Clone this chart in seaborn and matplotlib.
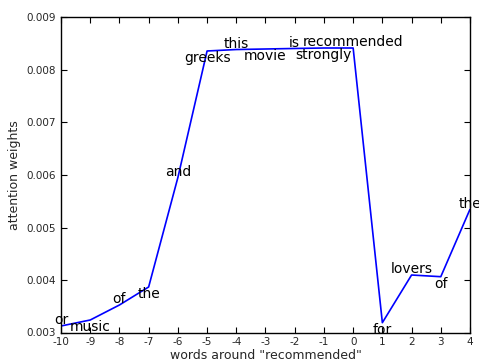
import matplotlib
matplotlib.use("Agg")
import matplotlib.pyplot as plt
import seaborn as sns
import pandas as pd
from matplotlib.ticker import FormatStrFormatter, MultipleLocator

positions = [-10, -9, -8, -7, -6, -5, -4, -3, -2, -1, 0, 1, 2, 3, 4]
weights = [0.003124, 0.003238, 0.003524, 0.003867, 0.00595, 0.008362, 0.008390,
           0.008400, 0.008410, 0.008419, 0.008419, 0.003187, 0.004095, 0.004063, 0.005347]
words = ["or", "music", "of", "the", "and", "greeks", "this", "movie", "is",
         "strongly", "recommended", "for", "lovers", "of", "the"]

sns.set_style("ticks")
plt.rcParams["font.family"] = ["DejaVu Sans"]
plt.rcParams["axes.unicode_minus"] = False
plt.rcParams["xtick.direction"] = "in"
plt.rcParams["ytick.direction"] = "in"

df = pd.DataFrame({"pos": positions, "w": weights})

fig = plt.figure(figsize=(4.79, 3.62), dpi=100)
ax = fig.add_axes([61 / 479, 29.5 / 362, 409 / 479, 315 / 362])
sns.lineplot(data=df, x="pos", y="w", ax=ax, color="#0000ff", linewidth=1.2)

for i, (p, w, t) in enumerate(zip(positions, weights, words)):
    if i % 2 == 0:
        ax.annotate(t, (p, w), xytext=(0, 1.2), textcoords="offset points",
                    ha="center", va="baseline", fontsize=10, color="black")
    else:
        ax.annotate(t, (p, w), xytext=(0, 0), textcoords="offset points",
                    ha="center", va="top", fontsize=10, color="black")

ax.set_xlim(-10, 4)
ax.set_ylim(0.003, 0.009)
ax.xaxis.set_major_locator(MultipleLocator(1))
ax.yaxis.set_major_locator(MultipleLocator(0.001))
ax.yaxis.set_major_formatter(FormatStrFormatter("%.3f"))
ax.tick_params(axis="both", which="major", labelsize=7.5, length=4, width=0.8,
               top=True, right=True, direction="in", color="black")
ax.tick_params(axis="x", pad=3)
ax.tick_params(axis="y", pad=3.5)
for s in ax.spines.values():
    s.set_color("black")
    s.set_linewidth(1.0)
ax.set_xlabel('words around "recommended"', fontsize=9, labelpad=2)
ax.set_ylabel("attention weights", fontsize=9, labelpad=4)

fig.savefig("out.png", dpi=100)
